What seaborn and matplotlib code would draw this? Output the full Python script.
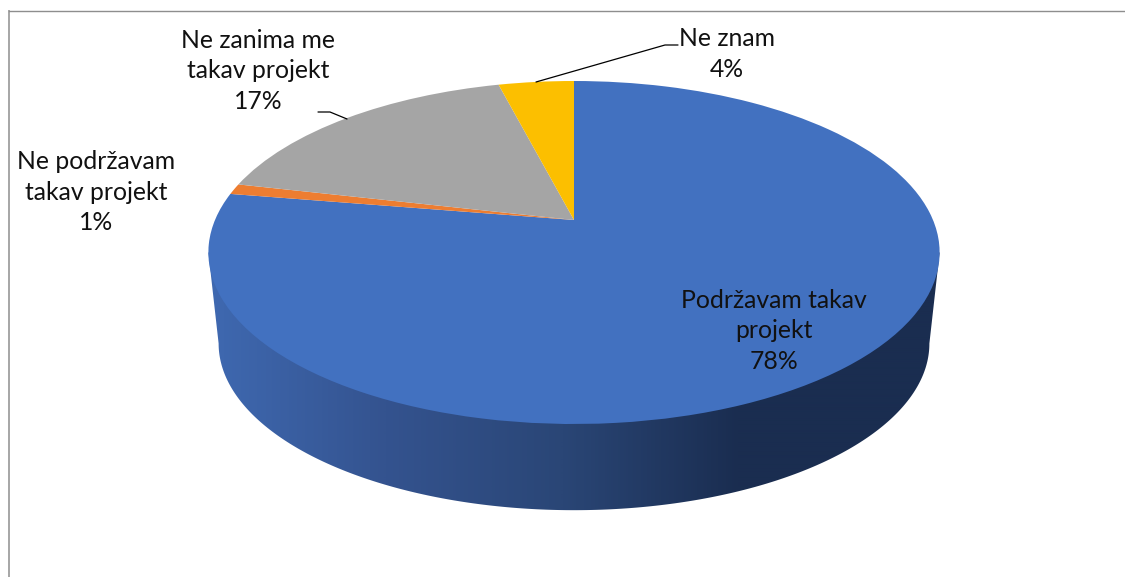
import numpy as np
import matplotlib
matplotlib.use("Agg")
import matplotlib.pyplot as plt
from matplotlib.patches import Polygon
from matplotlib.transforms import Transform
import seaborn as sns

categories = ["Podržavam takav\nprojekt", "Ne podržavam\ntakav projekt",
              "Ne zanima me\ntakav projekt", "Ne znam"]
values = [77.6, 1.0, 17.4, 4.0]
colors = ["#4271C0", "#ED7D31", "#A5A5A5", "#FCBF00"]

sns.set_theme(style="white")
plt.rcParams["font.family"] = ["Lato", "DejaVu Sans"]

W, H = 1125, 577
fig = plt.figure(figsize=(W / 100, H / 100), dpi=100, facecolor="white")
ax = fig.add_axes([9 / W, 0, 1 - 9 / W, 566 / H])

# perspective of the pie's top face, in pixels
CX, TIP_Y, RX, KP, AY = 574.0, 220.0, 359.0, 0.1895, -123.65
SCALE, DROP, MID_Y = 0.972, 91.0, 252.0


def persp(xy):
    xy = np.asarray(xy, dtype=float)
    d = 1 + KP * xy[:, 1]
    return np.column_stack([CX + RX * xy[:, 0] / d, (AY * xy[:, 1] + TIP_Y) / d])


class Persp(Transform):
    input_dims = output_dims = 2
    is_separable = False
    has_inverse = False

    def transform_non_affine(self, values):
        return persp(values)


def bottom_face(xy):
    p = persp(xy)
    return np.column_stack([CX + SCALE * (p[:, 0] - CX),
                            MID_Y + DROP + SCALE * (p[:, 1] - MID_Y)])


wedges, _ = ax.pie(values, colors=colors, startangle=90, counterclock=False,
                   radius=1, wedgeprops={"linewidth": 0})
to_px = Persp() + ax.transData
for w in wedges:
    w.set_transform(to_px)
    w.set_zorder(3)

# side wall: outline from the two faces, shaded left to right
phi0 = np.arccos(-KP)
phi = np.linspace(2 * np.pi - phi0, phi0, 240)
unit = np.column_stack([np.sin(phi), np.cos(phi)])
hull = np.vstack([persp(unit[:1]), bottom_face(unit), persp(unit[-1:])])
xs = np.arange(200, 950)
shade = np.interp(xs, [207, 740], [0.0, 1.0])
cmap = sns.blend_palette(["#3F69B1", "#34538F", "#2A4676", "#1A2D50"], 256, as_cmap=True)
im = ax.imshow(shade[None, :], cmap=cmap, vmin=0, vmax=1, aspect="auto",
               extent=(200, 950, 520, 240), zorder=2, interpolation="bilinear")
im.set_clip_path(Polygon(hull, closed=True, transform=ax.transData))

ax.set_aspect("auto")
ax.set_xlim(9, W)
ax.set_ylim(H, 11)
ax.set_frame_on(True)
ax.set_xticks([])
ax.set_yticks([])
for name, sp in ax.spines.items():
    sp.set_visible(name in ("left", "top"))
ax.spines["top"].set_color("#8E8E8E")
ax.spines["top"].set_linewidth(1.0)
ax.spines["left"].set_color("#A6A6A6")
ax.spines["left"].set_linewidth(1.4)

pct = [f"{v:.0f}%" for v in values]
label_pos = [(774, 331), (96, 192), (258, 71), (727, 54)]
for cat, p, (lx, ly) in zip(categories, pct, label_pos):
    ax.text(lx, ly, f"{cat}\n{p}", ha="center", va="center", fontsize=17.8,
            color="#111111", linespacing=1.37, zorder=5)

# leader lines
ax.plot([536, 665, 678], [82, 45, 45], color="black", lw=0.9, zorder=4)
ax.plot([318, 330, 347], [112, 112, 119], color="black", lw=0.9, zorder=4)

fig.savefig("out.png", dpi=100)
